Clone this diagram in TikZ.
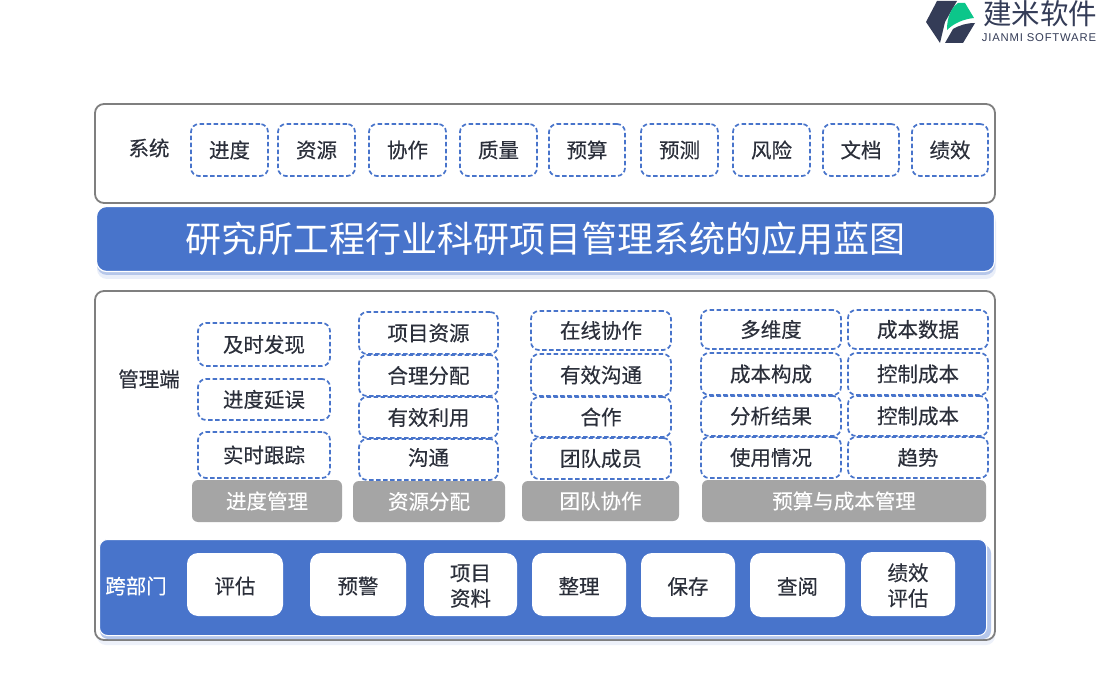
\documentclass[tikz,border=0pt]{standalone}
\usepackage{fontspec}
\setmainfont[FakeBold=0.3]{Noto Sans CJK SC}
\newfontfamily\titlefont{Noto Sans CJK SC}
\newfontfamily\latinfont[LetterSpace=7]{Liberation Sans}
\usetikzlibrary{calc}
\definecolor{bluefill}{HTML}{4874CB}
\definecolor{dashblue}{HTML}{4874CB}
\definecolor{inkdark}{HTML}{2B2F3A}
\definecolor{framegray}{HTML}{7F7F7F}
\definecolor{tabgray}{HTML}{A5A5A5}
\definecolor{logodark}{HTML}{343C57}
\definecolor{logogreen}{HTML}{0CC68A}
\tikzset{x=1pt,y=-1pt,
  framebox/.style={draw=framegray,line width=1.8pt,rounded corners=9pt,fill=white,inner sep=0pt},
  dashbox/.style={draw=dashblue,line width=1.7pt,dash pattern=on 4.5pt off 2.5pt,rounded corners=8pt,fill=white,inner sep=0pt,text=inkdark,font=\fontsize{20.5}{24}\selectfont},
  tabbox/.style={fill=tabgray,rounded corners=6pt,inner sep=0pt,text=white,font=\fontsize{20.5}{24}\selectfont},
  whitebox/.style={fill=white,rounded corners=11pt,inner sep=0pt},
  whitetext/.style={inner sep=0pt,yshift=-1.5pt,text=inkdark,align=center,font=\fontsize{20.5}{25.5}\selectfont},
  raisedtext/.style={inner sep=0pt,yshift=2pt,text=inkdark,font=\fontsize{20.5}{24}\selectfont},
  sidelabel/.style={text=inkdark,inner sep=0pt,font=\fontsize{20.5}{24}\selectfont},
}
% #1 name, #2 left, #3 top, #4 right, #5 bottom, #6 style, #7 text
\newcommand{\bx}[7]{\node[#6,minimum width=#4pt-#2pt,minimum height=#5pt-#3pt] (#1) at ({(#2+#4)/2},{(#3+#5)/2}) {#7};}
\begin{document}
\begin{tikzpicture}
\useasboundingbox (0,0) rectangle (1100,700);
\fill[white] (0,0) rectangle (1100,700);
% frames
\bx{sysframe}{95}{104}{995}{203}{framebox}{}
\fill[bluefill!12,rounded corners=10pt] (97,212) rectangle (996,279);
\fill[bluefill!40,rounded corners=10pt] (97,212) rectangle (995,275);
\fill[bluefill!10,rounded corners=9pt] (97,300) rectangle (995,645);
\bx{mgmtframe}{95}{291}{995}{640}{framebox}{}
\fill[bluefill!40,rounded corners=8pt] (100,545) rectangle (991,639);
% title
\node[fill=bluefill,draw=white,line width=1.2pt,rounded corners=10pt,minimum width=898pt,minimum height=65pt,inner sep=0pt,text=white,font=\titlefont\fontsize{36}{40}\selectfont] (title) at (545.5,239) {研究所工程行业科研项目管理系统的应用蓝图};
% system row
\node[sidelabel] (sys) at (149,148) {系统};
\bx{a1}{191}{124}{268}{176}{dashbox}{进度}
\bx{a2}{278}{124}{355}{176}{dashbox}{资源}
\bx{a3}{369}{124}{446}{176}{dashbox}{协作}
\bx{a4}{460}{124}{537}{176}{dashbox}{质量}
\bx{a5}{549}{124}{625}{176}{dashbox}{预算}
\bx{a6}{641}{124}{718}{176}{dashbox}{预测}
\bx{a7}{733}{124}{810}{176}{dashbox}{风险}
\bx{a8}{823}{124}{899}{176}{dashbox}{文档}
\bx{a9}{912}{124}{988}{176}{dashbox}{绩效}
% mgmt
\node[sidelabel] (mg) at (149,379) {管理端};
\bx{b1}{198}{323}{330}{366}{dashbox}{及时发现}
\bx{b2}{198}{379}{330}{420}{dashbox}{进度延误}
\bx{b3}{198}{432}{330}{478}{dashbox}{实时跟踪}
\bx{c1}{359}{312}{498}{354}{dashbox}{项目资源}
\bx{c2}{359}{355}{498}{396}{dashbox}{合理分配}
\bx{c3}{359}{397}{498}{438}{dashbox}{有效利用}
\bx{c4}{359}{439}{498}{480}{dashbox,label={[raisedtext]center:沟通}}{}
\bx{d1}{531}{311}{671}{350}{dashbox}{在线协作}
\bx{d2}{531}{354}{671}{396}{dashbox}{有效沟通}
\bx{d3}{531}{397}{671}{437}{dashbox}{合作}
\bx{d4}{531}{438}{671}{479}{dashbox}{团队成员}
\bx{e1}{701}{310}{841}{349}{dashbox}{多维度}
\bx{e2}{701}{353}{841}{395}{dashbox}{成本构成}
\bx{e3}{701}{396}{841}{436}{dashbox}{分析结果}
\bx{e4}{701}{437}{841}{478}{dashbox}{使用情况}
\bx{f1}{848}{310}{988}{349}{dashbox}{成本数据}
\bx{f2}{848}{353}{988}{395}{dashbox}{控制成本}
\bx{f3}{848}{396}{988}{436}{dashbox}{控制成本}
\bx{f4}{848}{437}{988}{478}{dashbox}{趋势}
\bx{t1}{192}{480}{342}{522}{tabbox}{进度管理}
\bx{t2}{353}{481}{505}{522}{tabbox}{资源分配}
\bx{t3}{522}{481}{679}{521}{tabbox}{团队协作}
\bx{t4}{702}{480}{986}{522}{tabbox}{预算与成本管理}
% cross-dept band
\node[fill=bluefill,draw=white,line width=1pt,rounded corners=8pt,minimum width=887pt,minimum height=96pt,inner sep=0pt] (band) at (543,587.5) {};
\node[sidelabel,text=white] (kb) at (136,586) {跨部门};
\bx{g1}{187}{553}{283}{616}{whitebox,label={[whitetext]center:评估}}{}
\bx{g2}{310}{553}{406}{616}{whitebox,label={[whitetext]center:预警}}{}
\bx{g3}{424}{553}{517}{616}{whitebox,label={[whitetext]center:项目\\资料}}{}
\bx{g4}{532}{553}{626}{616}{whitebox,label={[whitetext]center:整理}}{}
\bx{g5}{641}{553}{735}{617}{whitebox,label={[whitetext]center:保存}}{}
\bx{g6}{750}{553}{845}{617}{whitebox,label={[whitetext]center:查阅}}{}
\bx{g7}{861}{552}{955}{616}{whitebox,label={[whitetext]center:绩效\\评估}}{}
% logo
\fill[logodark] (937,1) -- (926,22) -- (940,43) -- (945,22) -- (957,1) -- cycle;
\fill[logodark] (945,43) -- (953,29) .. controls (960,25) and (967,23) .. (975,23) -- (963,43) -- cycle;
\fill[logogreen] (947,30) .. controls (947,17) and (951,8) .. (958,3) -- (965,3) -- (974,18) .. controls (964,19) and (954,23) .. (947,30) -- cycle;
\node[inner sep=0pt,text=logodark,font=\titlefont\fontsize{28.5}{30}\selectfont] (logo) at (1040,14) {建米软件};
\node[inner sep=0pt,text=logodark,font=\latinfont\fontsize{11.3}{12}\selectfont] (logo2) at (1039,38) {JIANMI SOFTWARE};
\end{tikzpicture}
\end{document}
